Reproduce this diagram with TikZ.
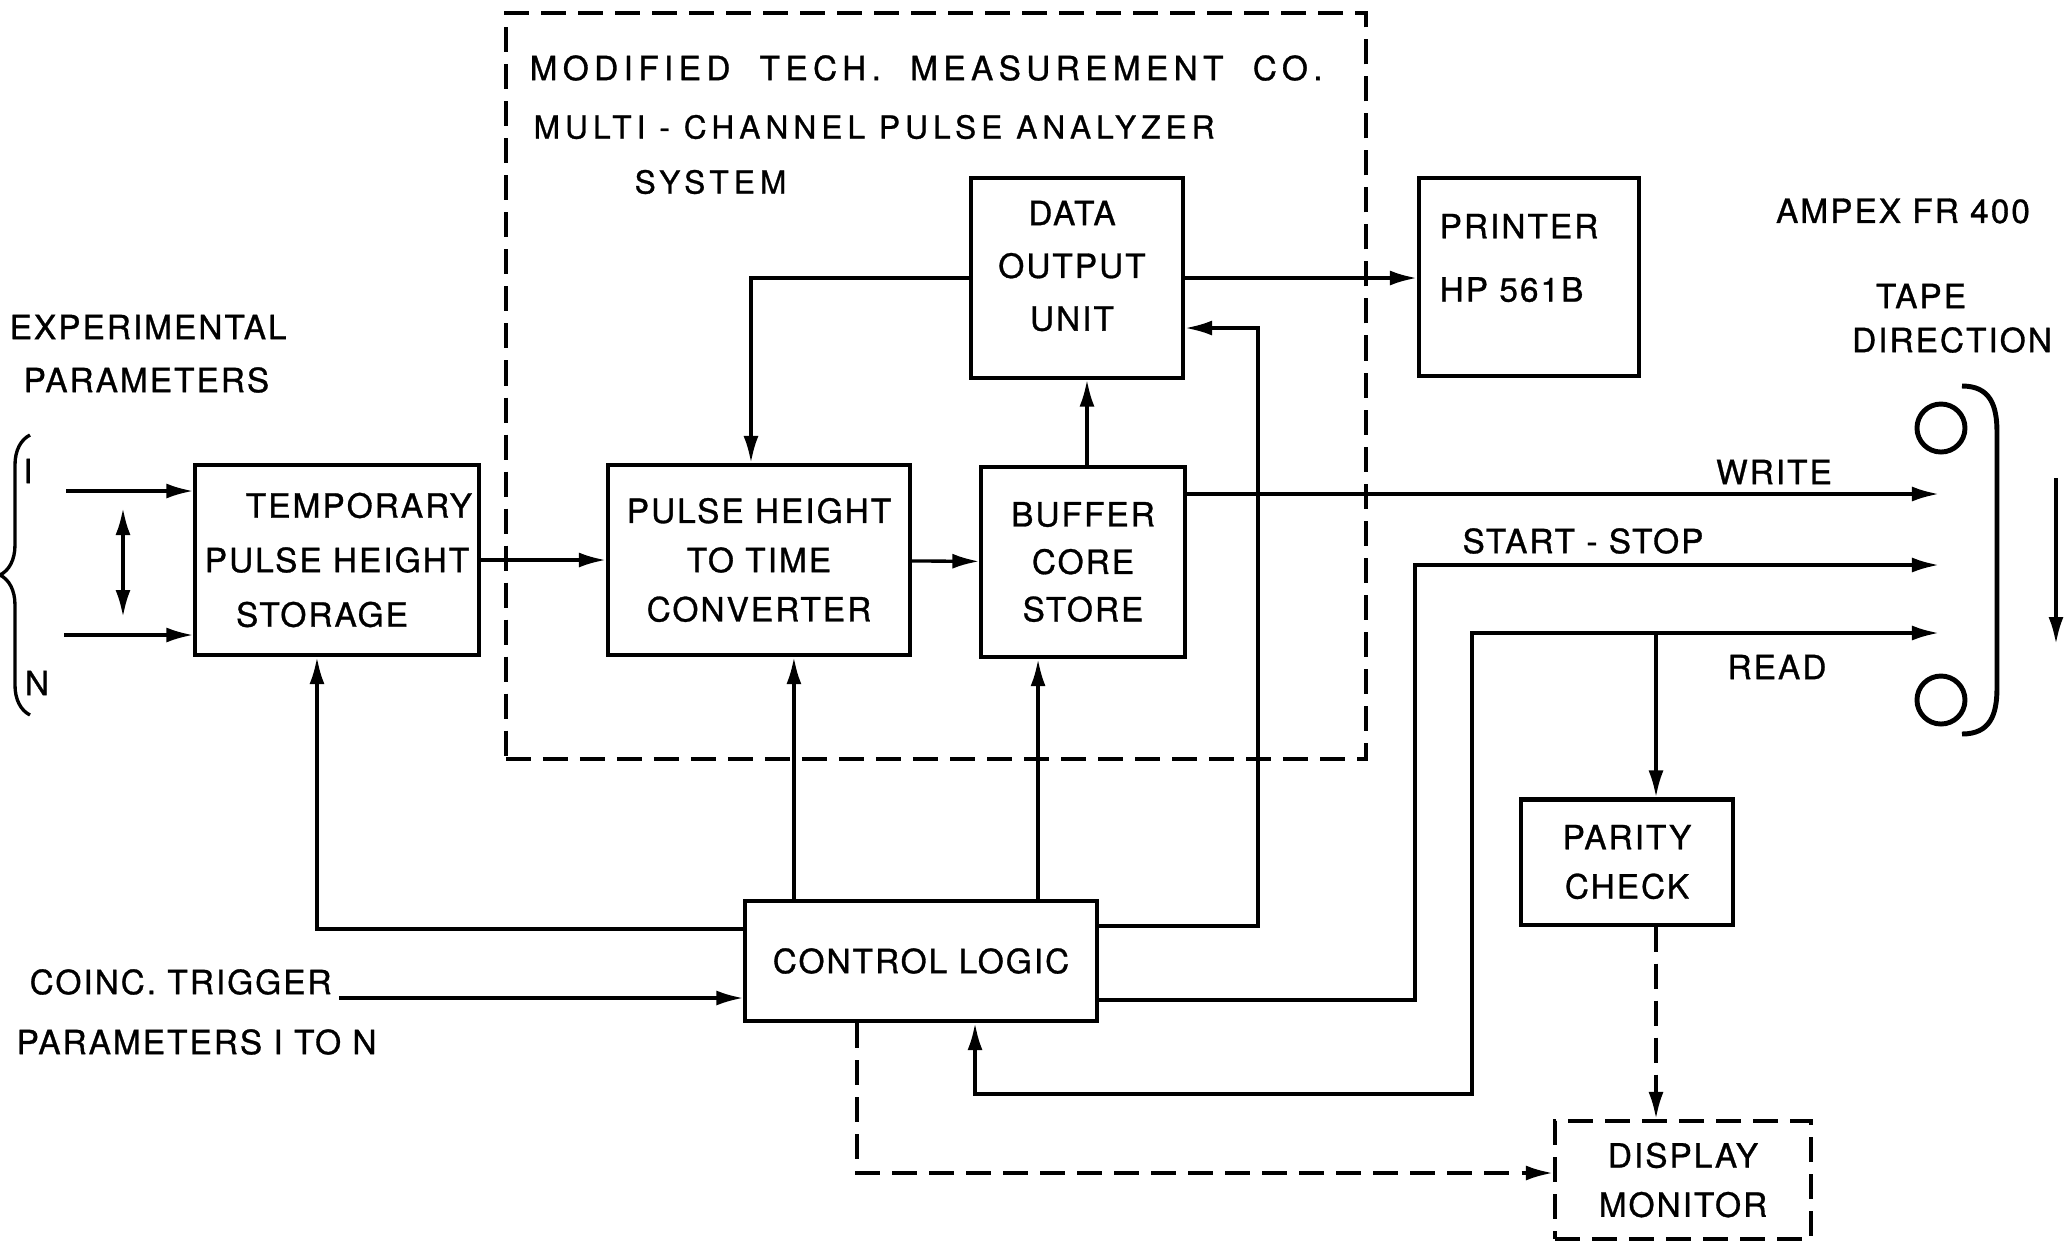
\documentclass[tikz,border=0pt]{standalone}
\usepackage{fontspec}
\setmainfont{TeX Gyre Heros}[LetterSpace=6,FakeBold=0.9]
\usetikzlibrary{arrows.meta,decorations.pathreplacing}

\begin{document}
\begin{tikzpicture}[x=0.01cm,y=-0.01cm,>={Latex[length=2.7mm,width=1.5mm]},line width=0.95pt,
  every node/.style={font=\fontsize{9.5}{14}\selectfont,align=center,inner sep=0pt},
  blk/.style={draw,line width=1.15pt},
  dsh/.style={dash pattern=on 2.5mm off 1.2mm},
  ttl/.style={anchor=west,font=\fontsize{#1}{11}\selectfont\addfontfeatures{LetterSpace=16}}]
  \useasboundingbox (0,0) rectangle (2068,1241);
  \node[blk,dsh,minimum width=8.6cm,minimum height=7.45cm] (sys) at (936,386) {};
  \node[ttl=9.5] (t1) at (528,68) {MODIFIED~~TECH.~~MEASUREMENT~~CO.};
  \node[ttl=9] (t2) at (532,127) {MULTI - CHANNEL PULSE ANALYZER};
  \node[ttl=9] (t3) at (633,182) {SYSTEM};
  \node[blk,minimum width=2.83cm,minimum height=1.9cm,font=\fontsize{9.5}{15.5}\selectfont] (tmp) at (337,560) {\hspace*{0.44cm}TEMPORARY\\PULSE HEIGHT\\STORAGE\hspace*{0.3cm}};
  \node[blk,minimum width=3.02cm,minimum height=1.9cm] (conv) at (759,560) {PULSE HEIGHT\\TO TIME\\CONVERTER};
  \node[blk,minimum width=2.03cm,minimum height=1.9cm,font=\fontsize{9.5}{13.5}\selectfont] (buf) at (1083,562) {BUFFER\\CORE\\STORE};
  \node[blk,minimum width=2.12cm,minimum height=1.99cm] (dou) at (1077,278) {};
  \node[font=\fontsize{9.5}{15}\selectfont] (dout) at (1072,266) {DATA\\OUTPUT\\UNIT};
  \node[blk,minimum width=2.2cm,minimum height=1.98cm] (prn) at (1529,277) {};
  \node[anchor=west,align=left,font=\fontsize{9.5}{18}\selectfont] (prnt) at (1438,258) {PRINTER\\HP 561B};
  \node[blk,minimum width=3.51cm,minimum height=1.2cm] (ctl) at (921,961) {CONTROL LOGIC};
  \node[blk,minimum width=2.12cm,minimum height=1.25cm] (par) at (1627,862) {PARITY\\CHECK};
  \node[blk,dsh,minimum width=2.56cm,minimum height=1.18cm] (mon) at (1683,1180) {DISPLAY\\MONITOR};
  \node[anchor=west] (exp1) at (8,327) {EXPERIMENTAL};
  \node[anchor=west] (exp2) at (22,380) {PARAMETERS};
  \node (lI) at (28,471) {I};
  \node (lN) at (37,683) {N};
  \node[anchor=west] (trg1) at (28,982) {COINC. TRIGGER};
  \node[anchor=west] (trg2) at (15,1042) {PARAMETERS I TO N};
  \node (ampex) at (1903,211) {AMPEX~FR 400};
  \node (tape) at (1921,296) {TAPE};
  \node (dir) at (1952,340) {DIRECTION};
  \node (wr) at (1774,472) {WRITE};
  \node (ss) at (1583,541) {START - STOP};
  \node (rd) at (1777,667) {READ};
  \node[circle,draw,line width=1.4pt,minimum size=0.48cm] (reel1) at (1941,428) {};
  \node[circle,draw,line width=1.4pt,minimum size=0.48cm] (reel2) at (1941,700) {};
  \draw[line width=1.4pt] (1962,386) .. controls (1990,386) and (1997,405) .. (1997,432)
    -- (1997,688) .. controls (1997,715) and (1990,734) .. (1962,734);
  \coordinate (td1) at (2056,478);
  \coordinate (td2) at (2056,644);
  \draw[->] (td1) -- (td2);
  \draw[decorate,decoration={brace,amplitude=0.3cm}] (30,715) -- (30,435);
  \coordinate (inI) at (66,491);
  \coordinate (inN) at (64,635);
  \coordinate (ua) at (123,508);
  \coordinate (ub) at (123,617);
  \draw[->] (inI) -- (inI -| tmp.west);
  \draw[->] (inN) -- (inN -| tmp.west);
  \draw[<->] (ua) -- (ub);
  \draw[->] (tmp) -- (conv);
  \draw[->] (conv) -- (buf);
  \draw[->] ([xshift=0.04cm]buf.north) -- ([xshift=0.04cm]buf.north |- dou.south);
  \draw[->] (dou.west) -| ([xshift=-0.08cm]conv.north);
  \draw[->] (dou.east) -- (dou.east -| prn.west);
  \coordinate (fbk) at (1258,328);
  \draw[->] ([yshift=0.35cm]ctl.east) -| (fbk) -- (fbk -| dou.east);
  \draw[->] ([yshift=0.32cm]ctl.west) -| ([xshift=-0.2cm]tmp.south);
  \draw[->] ([xshift=-1.27cm]ctl.north) -- ([xshift=-1.27cm]ctl.north |- conv.south);
  \draw[->] ([xshift=1.17cm]ctl.north) -- ([xshift=1.17cm]ctl.north |- buf.south);
  \coordinate (trg) at (339,998);
  \draw[->] (trg) -- (trg -| ctl.west);
  \coordinate (wrend) at (1939,494);
  \draw[->] (buf.east |- wrend) -- (wrend);
  \coordinate (ssk) at (1415,565);
  \coordinate (ssend) at (1939,565);
  \draw[->] ([yshift=-0.39cm]ctl.east) -| (ssk) -- (ssend);
  \coordinate (rdk) at (1472,1094);
  \coordinate (rdend) at (1939,633);
  \draw[<->] ([xshift=0.54cm]ctl.south) |- (rdk) |- (rdend);
  \draw[->] ([xshift=0.29cm]par.north |- rdend) -- ([xshift=0.29cm]par.north);
  \draw[dsh,->] ([xshift=0.29cm]par.south) -- ([xshift=0.29cm]par.south |- mon.north);
  \draw[dsh,->] ([xshift=-0.64cm]ctl.south) |- ([yshift=0.07cm]mon.west);
\end{tikzpicture}
\end{document}
